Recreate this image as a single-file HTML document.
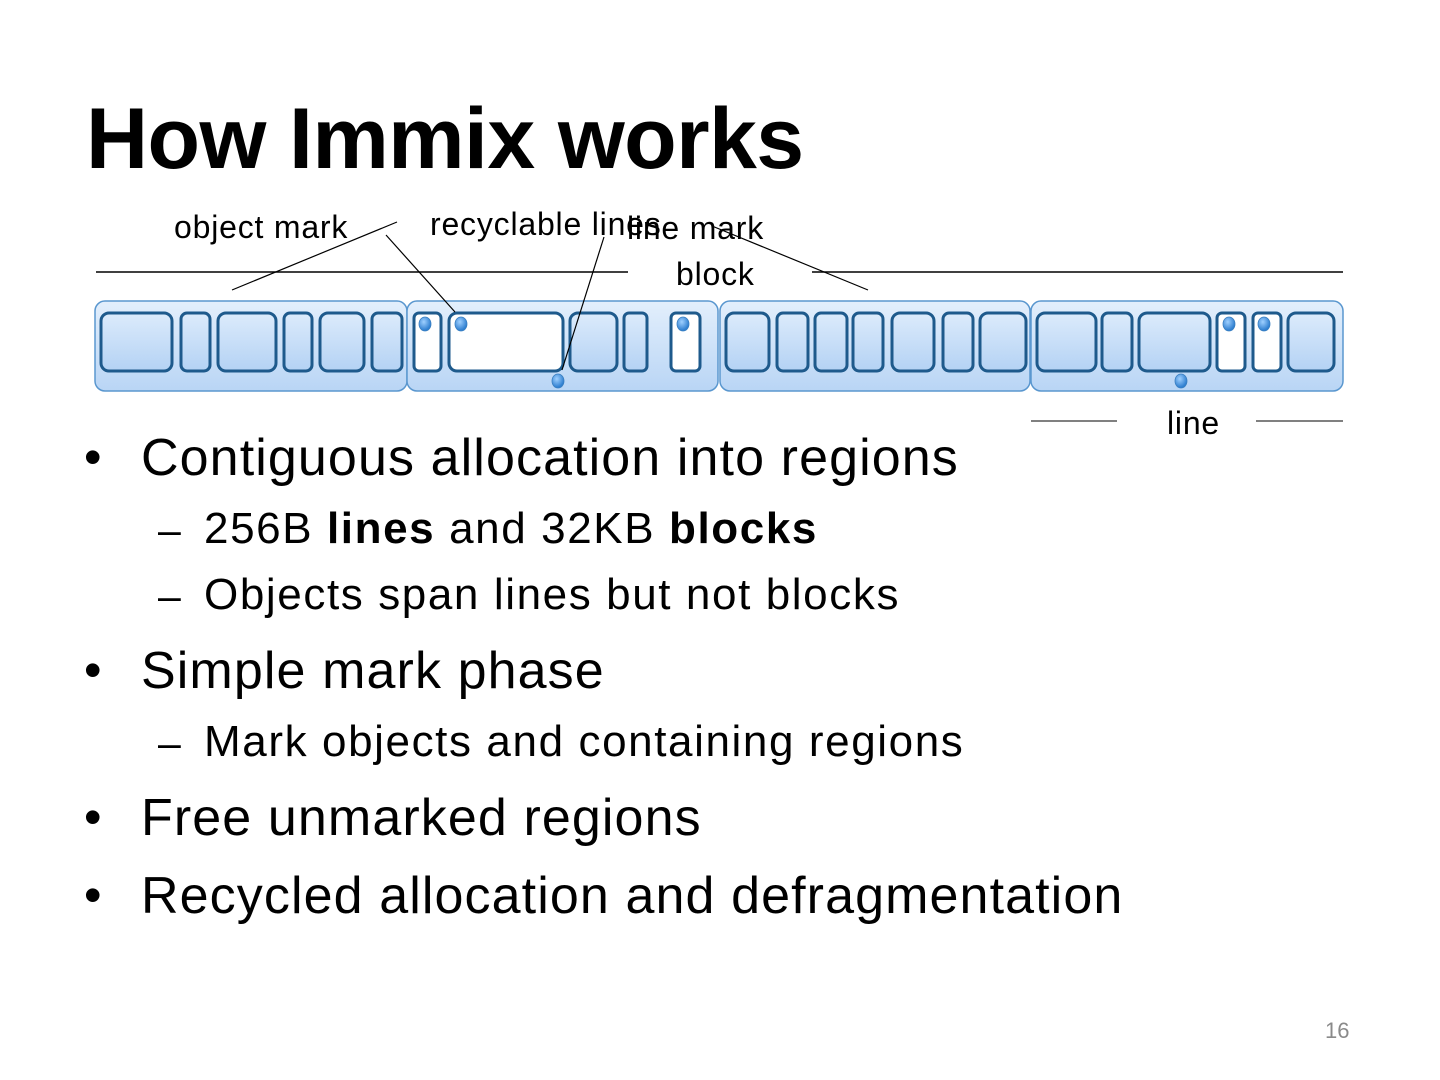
<!DOCTYPE html>
<html><head><meta charset="utf-8"><style>
body{margin:0;width:1440px;height:1080px;background:#fff;font-family:"Liberation Sans",sans-serif;position:relative;overflow:hidden}
.t{position:absolute;white-space:nowrap;color:#000}
.b{font-size:52px;letter-spacing:1.1px}
.s{font-size:44px;letter-spacing:1.6px}
.l{font-size:32px;letter-spacing:0.8px}
</style></head><body>
<div class="t" style="left:86px;top:90px;font-size:86px;font-weight:bold;letter-spacing:-0.6px">How Immix works</div>
<svg width="1440" height="1080" style="position:absolute;left:0;top:0">
<defs>
<linearGradient id="bg" x1="0" y1="0" x2="0" y2="1"><stop offset="0" stop-color="#e3effc"/><stop offset="1" stop-color="#b9d5f5"/></linearGradient>
<linearGradient id="ig" x1="0" y1="0" x2="0" y2="1"><stop offset="0" stop-color="#dcebfb"/><stop offset="1" stop-color="#b4d2f4"/></linearGradient>
<radialGradient id="dg" cx="0.4" cy="0.35" r="0.6"><stop offset="0" stop-color="#9fd0ff"/><stop offset="1" stop-color="#2f7fd0"/></radialGradient>
</defs>
<g stroke="#5a97cf" stroke-width="1.5" fill="url(#bg)">
<rect x="95" y="301" width="312" height="90" rx="10"/>
<rect x="407" y="301" width="311" height="90" rx="10"/>
<rect x="720" y="301" width="310" height="90" rx="10"/>
<rect x="1031" y="301" width="312" height="90" rx="10"/>
</g>
<g stroke="#1e5a8c" stroke-width="3" fill="url(#ig)">
<rect x="101" y="313" width="71" height="58" rx="8"/>
<rect x="181" y="313" width="29" height="58" rx="6"/>
<rect x="218" y="313" width="58" height="58" rx="8"/>
<rect x="284" y="313" width="28" height="58" rx="6"/>
<rect x="320" y="313" width="44" height="58" rx="8"/>
<rect x="372" y="313" width="30" height="58" rx="6"/>
<rect x="414" y="313" width="27" height="58" rx="5" fill="#fff"/>
<rect x="449" y="313" width="114" height="58" rx="8" fill="#fff"/>
<rect x="570" y="313" width="47" height="58" rx="8"/>
<rect x="624" y="313" width="23" height="58" rx="5"/>
<rect x="671" y="313" width="29" height="58" rx="5" fill="#fff"/>
<rect x="726" y="313" width="43" height="58" rx="8"/>
<rect x="777" y="313" width="31" height="58" rx="6"/>
<rect x="815" y="313" width="32" height="58" rx="6"/>
<rect x="853" y="313" width="30" height="58" rx="6"/>
<rect x="892" y="313" width="42" height="58" rx="8"/>
<rect x="943" y="313" width="30" height="58" rx="6"/>
<rect x="980" y="313" width="46" height="58" rx="8"/>
<rect x="1037" y="313" width="59" height="58" rx="8"/>
<rect x="1102" y="313" width="30" height="58" rx="6"/>
<rect x="1139" y="313" width="71" height="58" rx="8"/>
<rect x="1217" y="313" width="28" height="58" rx="5" fill="#fff"/>
<rect x="1253" y="313" width="28" height="58" rx="5" fill="#fff"/>
<rect x="1288" y="313" width="46" height="58" rx="8"/>
</g>
<g fill="url(#dg)" stroke="#3a7fc0" stroke-width="0.8">
<ellipse cx="425" cy="324" rx="6" ry="7"/>
<ellipse cx="461" cy="324" rx="6" ry="7"/>
<ellipse cx="683" cy="324" rx="6" ry="7"/>
<ellipse cx="558" cy="381" rx="6" ry="7"/>
<ellipse cx="1229" cy="324" rx="6" ry="7"/>
<ellipse cx="1264" cy="324" rx="6" ry="7"/>
<ellipse cx="1181" cy="381" rx="6" ry="7"/>
</g>
<g stroke="#000" stroke-width="1.5">
<line x1="96" y1="272" x2="628" y2="272"/>
<line x1="812" y1="272" x2="1343" y2="272"/>
<line x1="1031" y1="421" x2="1117" y2="421" stroke-width="1"/>
<line x1="1256" y1="421" x2="1343" y2="421" stroke-width="1"/>
</g>
<g stroke="#000" stroke-width="1.2">
<line x1="397" y1="222" x2="232" y2="290"/>
<line x1="386" y1="235" x2="455" y2="312"/>
<line x1="604" y1="237" x2="562" y2="370"/>
<line x1="712" y1="226" x2="868" y2="290"/>
</g>
</svg>
<div class="t l" style="left:174px;top:209px">object mark</div>
<div class="t l" style="left:430px;top:206px">recyclable lines</div>
<div class="t l" style="left:627px;top:210px">line mark</div>
<div class="t l" style="left:676px;top:256px">block</div>
<div class="t l" style="left:1167px;top:405px">line</div>
<div class="t" style="left:84px;top:428px;font-size:50px">•</div>
<div class="t b" style="left:141px;top:428px">Contiguous allocation into regions</div>
<div class="t" style="left:158px;top:507px;font-size:41px">–</div>
<div class="t s" style="left:204px;top:504px">256B <b>lines</b> and 32KB <b>blocks</b></div>
<div class="t" style="left:158px;top:573px;font-size:41px">–</div>
<div class="t s" style="left:204px;top:570px">Objects span lines but not blocks</div>
<div class="t" style="left:84px;top:641px;font-size:50px">•</div>
<div class="t b" style="left:141px;top:641px">Simple mark phase</div>
<div class="t" style="left:158px;top:720px;font-size:41px">–</div>
<div class="t s" style="left:204px;top:717px">Mark objects and containing regions</div>
<div class="t" style="left:84px;top:788px;font-size:50px">•</div>
<div class="t b" style="left:141px;top:788px">Free unmarked regions</div>
<div class="t" style="left:84px;top:866px;font-size:50px">•</div>
<div class="t b" style="left:141px;top:866px">Recycled allocation and defragmentation</div>
<div class="t" style="left:1325px;top:1018px;font-size:22px;color:#8a8a8a">16</div>
</body></html>
